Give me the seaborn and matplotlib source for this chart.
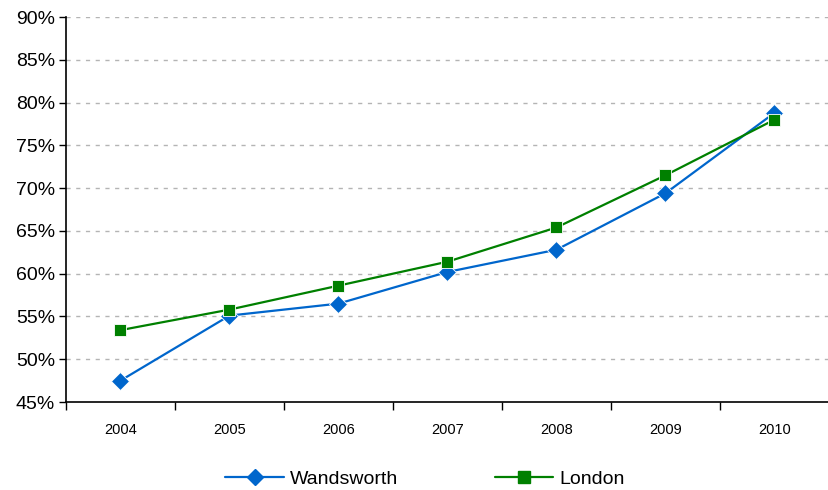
import matplotlib
matplotlib.use("Agg")
import matplotlib.pyplot as plt
from matplotlib.ticker import FixedLocator, FuncFormatter
import seaborn as sns
import pandas as pd

years = ["2004", "2005", "2006", "2007", "2008", "2009", "2010"]
wandsworth = [47.5, 55.1, 56.5, 60.2, 62.8, 69.4, 78.8]
london = [53.4, 55.8, 58.6, 61.4, 65.4, 71.5, 78.0]
series_names = ["Wandsworth", "London"]
y_ticks = [45, 50, 55, 60, 65, 70, 75, 80, 85, 90]

df = pd.DataFrame({
    "year": years * 2,
    "value": wandsworth + london,
    "area": [series_names[0]] * len(years) + [series_names[1]] * len(years),
})

sns.set_style("white")
plt.rcParams["font.family"] = ["Liberation Sans", "DejaVu Sans"]
plt.rcParams["text.color"] = "black"

fig = plt.figure(figsize=(8.29, 4.90), dpi=100)
ax = fig.add_axes([66 / 829, 1 - 402 / 490, 1 - 66 / 829, (402 - 17) / 490])

palette = {"Wandsworth": "#0066CC", "London": "#008000"}
markers = {"Wandsworth": "D", "London": "s"}
sns.lineplot(data=df, x="year", y="value", hue="area", style="area",
             palette=palette, markers=markers, dashes=False, markersize=9,
             linewidth=1.6, markeredgewidth=0.6, ax=ax, legend=False, sort=False)

ax.set_xlim(-0.5, len(years) - 0.5)
ax.set_ylim(45, 90)
ax.yaxis.set_major_locator(FixedLocator(y_ticks))
ax.yaxis.set_major_formatter(FuncFormatter(lambda v, _: f"{v:.0f}%"))
ax.set_xticks(range(len(years)))
ax.set_xticklabels(years)
ax.xaxis.set_minor_locator(FixedLocator([i - 0.5 for i in range(len(years) + 1)]))
ax.tick_params(axis="x", which="major", length=0, pad=15, labelsize=10.5, colors="black")
ax.tick_params(axis="x", which="minor", length=6, width=1, direction="out", color="black", bottom=True)
ax.tick_params(axis="y", which="major", length=5, width=1, direction="out", left=True,
               labelsize=14, colors="black", pad=3)

for v in y_ticks[1:]:
    ax.axhline(v, color="#B4B4B4", linestyle=(0, (3, 4)), linewidth=1, zorder=0)

for side in ["top", "right"]:
    ax.spines[side].set_visible(False)
for side in ["left", "bottom"]:
    ax.spines[side].set_color("black")
    ax.spines[side].set_linewidth(1.2)

ax.set_xlabel("")
ax.set_ylabel("")

handles = [
    plt.Line2D([], [], color=palette[n], marker=markers[n], markersize=8, linewidth=1.6)
    for n in series_names
]
fig.legend(handles, series_names, loc="center", bbox_to_anchor=(425 / 829, 1 - 479 / 490),
           ncol=2, frameon=False, fontsize=14, columnspacing=5.0, handlelength=3,
           handletextpad=0.3, labelcolor="black")

fig.savefig("out.png", dpi=100)
